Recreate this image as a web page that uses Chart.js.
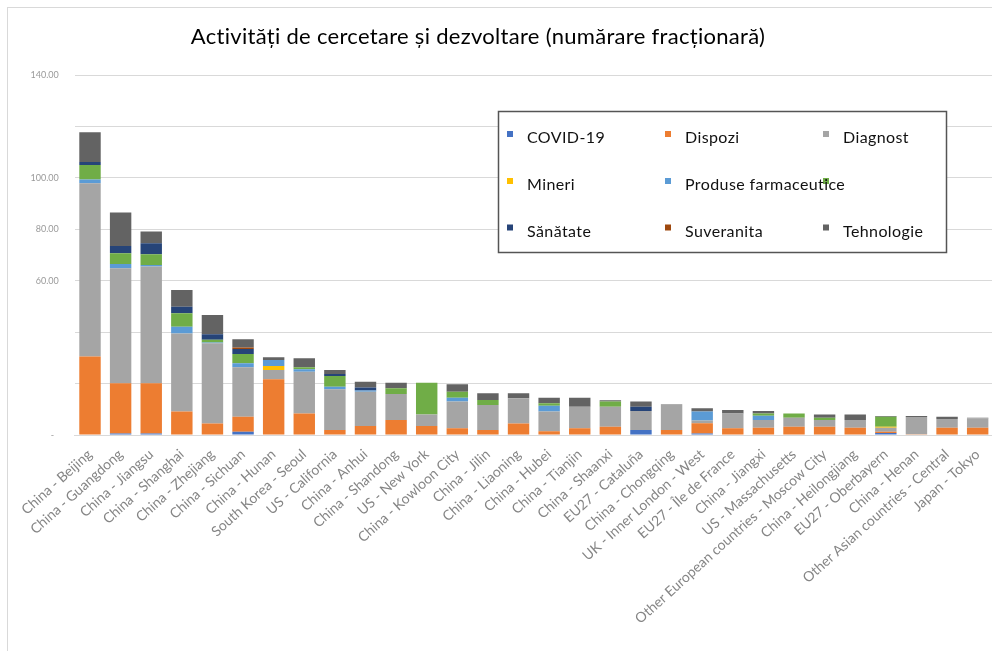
<!DOCTYPE html>
<html>
<head>
<meta charset="utf-8">
<script src="https://cdn.jsdelivr.net/npm/chart.js@4/dist/chart.umd.min.js"></script>
<style>
  html, body { margin: 0; padding: 0; background: #fff; overflow: hidden; width: 992px; height: 651px; }
  #wrap { position: absolute; left: 0; top: 0; width: 1000px; height: 651px; }
  #frame { position: absolute; left: 7px; top: 7px; width: 1000px; height: 660px;
           border-left: 1px solid #d9d9d9; border-top: 1px solid #d9d9d9; pointer-events: none; }
</style>
</head>
<body>
<div id="wrap"><canvas id="c"></canvas></div>
<div id="frame"></div>
<script>
// Regions, ordered by total research output
const regions = [
  'China - Beijing', 'China - Guangdong', 'China - Jiangsu', 'China - Shanghai', 'China - Zhejiang',
  'China - Sichuan', 'China - Hunan', 'South Korea - Seoul', 'US - California', 'China - Anhui',
  'China - Shandong', 'US - New York', 'China - Kowloon City', 'China - Jilin', 'China - Liaoning',
  'China - Hubei', 'China - Tianjin', 'China - Shaanxi', 'EU27 - Cataluña', 'China - Chongqing',
  'UK - Inner London - West', 'EU27 - Île de France', 'China - Jiangxi', 'US - Massachusetts',
  'Other European countries - Moscow City', 'China - Heilongjiang', 'EU27 - Oberbayern',
  'China - Henan', 'Other Asian countries - Central', 'Japan - Tokyo'
];

// Series values (fractional counting), one entry per region
const covid19     = [0, 0.6, 0.6, 0, 0, 1.3, 0, 0, 0, 0, 0, 0, 0, 0, 0, 0, 0, 0, 1.9, 0, 0.6, 0, 0, 0, 0, 0, 0.8, 0, 0, 0];
const dispozi     = [30.5, 19.5, 19.5, 9.1, 4.5, 5.8, 21.7, 8.4, 1.9, 3.5, 5.8, 3.5, 2.6, 1.9, 4.5, 1.5, 2.6, 3.2, 0, 1.9, 4.0, 2.6, 2.8, 3.2, 3.2, 2.8, 0.5, 0.3, 2.8, 2.8];
const diagnost    = [67.4, 44.7, 45.4, 30.4, 31.2, 19.2, 3.6, 16.2, 15.9, 13.3, 10.1, 4.5, 10.4, 9.8, 9.8, 7.6, 8.4, 7.8, 7.4, 9.8, 1.0, 5.8, 3.0, 3.5, 2.6, 3.0, 1.5, 6.7, 3.4, 3.7];
const mineri      = [0, 0, 0, 0, 0, 0, 1.5, 0, 0, 0, 0, 0, 0, 0, 0, 0, 0, 0, 0, 0, 0, 0, 0, 0, 0, 0, 0.4, 0, 0, 0];
const produseFarm = [1.5, 1.7, 0.6, 2.6, 0.3, 1.6, 2.4, 1.0, 1.0, 0.5, 0, 0, 1.5, 0, 0, 2.3, 0, 0, 0, 0, 3.5, 0, 1.7, 0, 0, 0, 0, 0, 0, 0];
const verde       = [5.6, 4.2, 4.2, 5.2, 1.0, 3.6, 0, 0.7, 4.1, 0, 2.3, 12.3, 2.3, 1.9, 0, 0.9, 0, 2.0, 0, 0, 0, 0, 0.9, 1.7, 0.9, 0, 3.9, 0, 0, 0];
const sanatate    = [1.2, 2.8, 4.3, 2.6, 2.2, 1.9, 0, 0, 0.8, 1.2, 0, 0, 0, 0, 0, 0, 0, 0, 1.7, 0, 0, 0, 0, 0, 0, 0, 0, 0, 0, 0];
const suveranita  = [0, 0, 0, 0, 0, 0.6, 0, 0, 0, 0, 0, 0, 0, 0, 0, 0, 0, 0, 0, 0, 0, 0, 0, 0, 0, 0, 0, 0, 0, 0];
const tehnologie  = [11.5, 13.0, 4.5, 6.5, 7.5, 3.2, 1.0, 3.5, 1.6, 2.2, 2.1, 0, 2.9, 2.6, 1.9, 2.2, 3.5, 0.5, 2.0, 0.2, 1.3, 1.3, 0.9, 0, 1.3, 2.2, 0.3, 0.4, 0.9, 0.2];

// Y axis labels shown at each 20-step gridline
const yTickLabels = { 140: '140.00', 120: '', 100: '100.00', 80: '80.00', 60: '60.00', 40: '', 20: '', 0: '-  ' };

const seriesNames  = ['COVID-19', 'Dispozi', 'Diagnost', 'Mineri', 'Produse farmaceutice', '', 'Sănătate', 'Suveranita', 'Tehnologie'];
const seriesValues = [covid19, dispozi, diagnost, mineri, produseFarm, verde, sanatate, suveranita, tehnologie];
const seriesColors = ['#4472C4', '#ED7D31', '#A5A5A5', '#FFC000', '#5B9BD5', '#70AD47', '#264478', '#9E480E', '#636363'];

const datasets = seriesNames.map((name, i) => ({
  label: name,
  data: seriesValues[i],
  backgroundColor: seriesColors[i],
  borderWidth: 0,
  barPercentage: 0.7,
  categoryPercentage: 1.0
}));

// Title drawn above the plot area
const titlePlugin = {
  id: 'chartTitle',
  afterDraw(chart) {
    const ctx = chart.ctx;
    ctx.save();
    ctx.font = '22px Lato';
    ctx.letterSpacing = '0.3px';
    ctx.fillStyle = '#000';
    ctx.textAlign = 'center';
    ctx.textBaseline = 'middle';
    ctx.fillText('Activități de cercetare și dezvoltare (numărare fracționară)', 478, 37);
    ctx.restore();
  }
};

// Boxed legend in three columns over the plot
const boxLegend = {
  id: 'boxLegend',
  afterDraw(chart) {
    const ctx = chart.ctx;
    const box = { x: 498.5, y: 111.5, w: 448, h: 141 };
    const colX = [507, 665, 823];
    const textX = [527, 685, 843];
    const rowY = [138, 185, 231.5];
    ctx.save();
    ctx.fillStyle = '#fff';
    ctx.fillRect(box.x, box.y, box.w, box.h);
    ctx.strokeStyle = '#555';
    ctx.lineWidth = 1.5;
    ctx.strokeRect(box.x, box.y, box.w, box.h);
    chart.data.datasets.forEach((ds, i) => {
      const c = i % 3, r = Math.floor(i / 3);
      ctx.fillStyle = ds.backgroundColor;
      ctx.fillRect(colX[c], rowY[r] - 7, 6, 6);
    });
    ctx.font = '16px Lato';
    ctx.letterSpacing = '0.4px';
    ctx.fillStyle = '#111';
    ctx.textBaseline = 'middle';
    ctx.textAlign = 'left';
    chart.data.datasets.forEach((ds, i) => {
      const c = i % 3, r = Math.floor(i / 3);
      if (ds.label) ctx.fillText(ds.label, textX[c], rowY[r]);
    });
    ctx.restore();
  }
};

new Chart(document.getElementById('c'), {
  type: 'bar',
  data: { labels: regions, datasets },
  options: {
    responsive: true,
    maintainAspectRatio: false,
    animation: false,
    layout: { padding: { top: 75, left: 0, right: 5.7, bottom: 0 } },
    plugins: { legend: { display: false }, title: { display: false }, tooltip: { enabled: false } },
    scales: {
      x: {
        stacked: true,
        grid: { display: false, drawTicks: false },
        border: { display: true, color: '#d9d9d9' },
        ticks: {
          autoSkip: false, minRotation: 42, maxRotation: 42, padding: 11,
          color: '#858585', font: { family: 'Lato', size: 14 }
        },
        afterFit(scale) { scale.height = 216; }
      },
      y: {
        stacked: true,
        min: 0, max: 140,
        grid: { color: '#d9d9d9', drawTicks: false },
        border: { display: false },
        ticks: {
          stepSize: 20, padding: 16,
          color: '#9a9a9a', font: { family: 'Lato', size: 9 },
          callback: (v) => (yTickLabels[v] !== undefined ? yTickLabels[v] : '')
        },
        afterFit(scale) { scale.width = 74.7; }
      }
    }
  },
  plugins: [titlePlugin, boxLegend]
});
</script>
</body>
</html>
